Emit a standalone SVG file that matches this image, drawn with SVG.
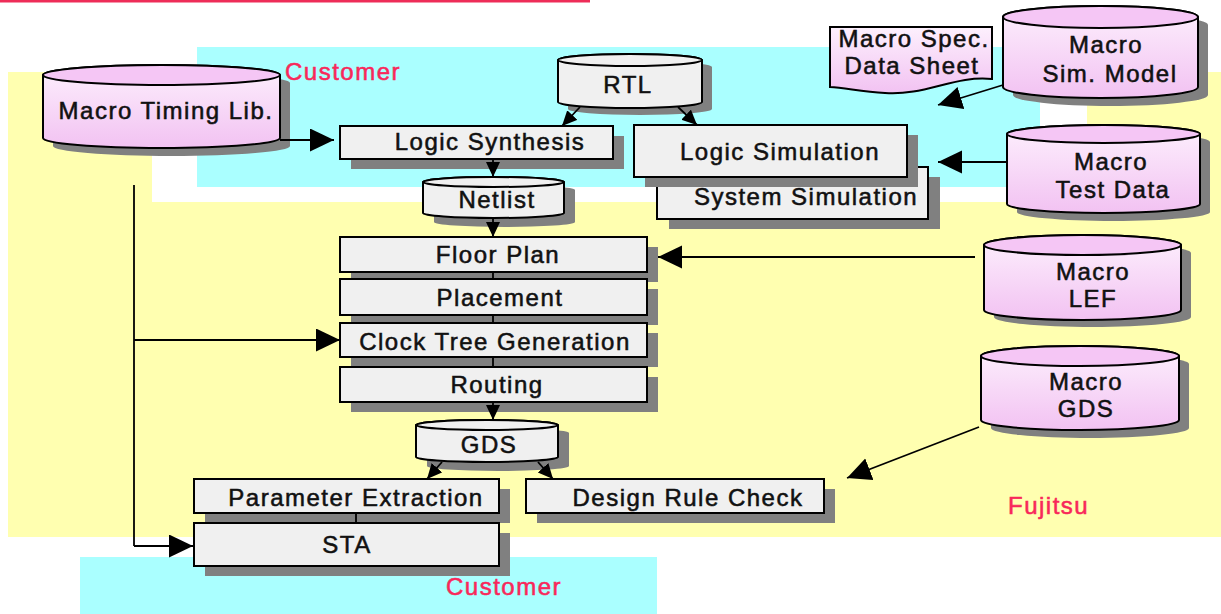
<svg xmlns="http://www.w3.org/2000/svg" width="1221" height="614" viewBox="0 0 1221 614">
<defs>
<linearGradient id="pink" x1="0" y1="0" x2="0" y2="1">
<stop offset="0" stop-color="#fdf0fd"/>
<stop offset="1" stop-color="#f2c2f2"/>
</linearGradient>
<marker id="big" markerUnits="userSpaceOnUse" markerWidth="26" markerHeight="24" refX="24" refY="11.5" orient="auto">
<path d="M0,0 L24,11.5 L0,23 Z" fill="#000"/>
</marker>
<marker id="small" markerUnits="userSpaceOnUse" markerWidth="16" markerHeight="16" refX="15" refY="7" orient="auto">
<path d="M0,0 L15,7 L0,14 Z" fill="#000"/>
</marker>
</defs>
<style>
text{font-family:"Liberation Sans",Arial,sans-serif;font-size:24px;letter-spacing:1.5px;fill:#111;stroke:#111;stroke-width:0.55px;text-anchor:middle}
.red{fill:#f8285a;stroke:#f8285a;text-anchor:start}
.box{fill:#f0f0f0;stroke:#000;stroke-width:2}
.sh{fill:#808080}
.cyl{fill:url(#pink);stroke:#000;stroke-width:2}
.top{fill:#f5c6f5;stroke:#000;stroke-width:2}
.gcyl{fill:#f0f0f0;stroke:#000;stroke-width:2}
.ln{fill:none;stroke:#000;stroke-width:1.8}
.lb{marker-end:url(#big)}
.ls{marker-end:url(#small)}
</style>

<g id="background">
<rect x="0" y="0" width="590" height="2.5" fill="#ee2c58"/>
<path d="M8,72 H152 V202 H1087 V72 H1221 V537 H8 Z" fill="#ffffb0"/>
<rect x="197" y="47" width="843" height="140" fill="#aaffff"/>
<rect x="80" y="557" width="577" height="57" fill="#aaffff"/>
<text class="red" x="285" y="80">Customer</text>
<text class="red" x="446" y="595">Customer</text>
<text class="red" x="1008" y="514">Fujitsu</text>
</g>

<g id="macro-timing-lib">
<path class="sh" d="M53,83 V146 A118.5,10 0 0 0 290,146 V83 A118.5,10 0 0 0 53,83 Z"/>
<path class="cyl" d="M43,75 V138 A118.5,10 0 0 0 280,138 V75 A118.5,10 0 0 0 43,75 Z"/>
<ellipse class="top" cx="161.5" cy="75" rx="118.5" ry="10"/>
<text x="166" y="119">Macro Timing Lib.</text>
</g>

<g id="rtl">
<path class="sh" d="M568,67 V109 A72,6 0 0 0 712,109 V67 A72,6 0 0 0 568,67 Z"/>
<path class="gcyl" d="M558,60 V102 A72,6 0 0 0 702,102 V60 A72,6 0 0 0 558,60 Z"/>
<ellipse class="gcyl" cx="630" cy="60" rx="72" ry="6"/>
<text x="628" y="93">RTL</text>
</g>

<g id="logic-synthesis">
<rect class="sh" x="351" y="136" width="273" height="33"/>
<rect class="box" x="340" y="126" width="273" height="33"/>
<text x="490" y="150">Logic Synthesis</text>
</g>

<g id="system-simulation">
<rect class="sh" x="669" y="177" width="271" height="52"/>
<rect class="box" x="657" y="167" width="271" height="52"/>
<text x="806" y="205">System Simulation</text>
</g>

<g id="logic-simulation">
<rect class="sh" x="645" y="135" width="273" height="52"/>
<rect class="box" x="634" y="125" width="273" height="52"/>
<text x="780" y="160">Logic Simulation</text>
</g>

<g id="netlist">
<path class="sh" d="M434,190 V222 A70.5,5 0 0 0 575,222 V190 A70.5,5 0 0 0 434,190 Z"/>
<path class="gcyl" d="M423,182 V213 A70.5,5 0 0 0 564,213 V182 A70.5,5 0 0 0 423,182 Z"/>
<ellipse class="gcyl" cx="493.5" cy="182" rx="70.5" ry="5"/>
<text x="497" y="208">Netlist</text>
</g>

<g id="macro-spec-data-sheet">
<path d="M830,27 H992 V79 C955,75 925,96 885,93 C860,91 845,88 830,87 Z" fill="url(#pink)" stroke="#000" stroke-width="2"/>
<text x="914" y="47">Macro Spec.</text>
<text x="912" y="74">Data Sheet</text>
</g>

<g id="macro-sim-model">
<path class="sh" d="M1013,25 V95 A97.5,11 0 0 0 1208,95 V25 A97.5,11 0 0 0 1013,25 Z"/>
<path class="cyl" d="M1003,17 V87 A97.5,11 0 0 0 1198,87 V17 A97.5,11 0 0 0 1003,17 Z"/>
<ellipse class="top" cx="1100.5" cy="17" rx="97.5" ry="11"/>
<text x="1106" y="53">Macro</text>
<text x="1110" y="82">Sim. Model</text>
</g>

<g id="macro-test-data">
<path class="sh" d="M1017,142 V212 A96.5,9 0 0 0 1210,212 V142 A96.5,9 0 0 0 1017,142 Z"/>
<path class="cyl" d="M1007,134 V204 A96.5,9 0 0 0 1200,204 V134 A96.5,9 0 0 0 1007,134 Z"/>
<ellipse class="top" cx="1103.5" cy="134" rx="96.5" ry="9"/>
<text x="1111" y="170">Macro</text>
<text x="1113" y="198">Test Data</text>
</g>

<g id="floor-plan">
<rect class="sh" x="351" y="247" width="307" height="35"/>
<rect class="box" x="340" y="237" width="307" height="35"/>
<text x="498" y="263">Floor Plan</text>
</g>

<g id="placement">
<rect class="sh" x="351" y="289" width="307" height="36"/>
<rect class="box" x="340" y="279" width="307" height="36"/>
<text x="500" y="306">Placement</text>
</g>

<g id="clock-tree-generation">
<rect class="sh" x="351" y="333" width="307" height="34"/>
<rect class="box" x="340" y="323" width="307" height="34"/>
<text x="495" y="350">Clock Tree Generation</text>
</g>

<g id="routing">
<rect class="sh" x="351" y="377" width="307" height="35"/>
<rect class="box" x="340" y="367" width="307" height="35"/>
<text x="497" y="393">Routing</text>
</g>

<g id="macro-lef">
<path class="sh" d="M994,253 V317 A98.5,10 0 0 0 1191,317 V253 A98.5,10 0 0 0 994,253 Z"/>
<path class="cyl" d="M984,245 V310 A98.5,10 0 0 0 1181,310 V245 A98.5,10 0 0 0 984,245 Z"/>
<ellipse class="top" cx="1082.5" cy="245" rx="98.5" ry="10"/>
<text x="1093" y="280">Macro</text>
<text x="1093" y="307">LEF</text>
</g>

<g id="macro-gds">
<path class="sh" d="M991,364 V428 A99,10 0 0 0 1189,428 V364 A99,10 0 0 0 991,364 Z"/>
<path class="cyl" d="M981,356 V420 A99,10 0 0 0 1179,420 V356 A99,10 0 0 0 981,356 Z"/>
<ellipse class="top" cx="1080" cy="356" rx="99" ry="10"/>
<text x="1086" y="390">Macro</text>
<text x="1086" y="417">GDS</text>
</g>

<g id="gds">
<path class="sh" d="M427,433 V466 A71,5 0 0 0 569,466 V433 A71,5 0 0 0 427,433 Z"/>
<path class="gcyl" d="M416,425 V457 A71,5 0 0 0 558,457 V425 A71,5 0 0 0 416,425 Z"/>
<ellipse class="gcyl" cx="487" cy="425" rx="71" ry="5"/>
<text x="489" y="453">GDS</text>
</g>

<g id="parameter-extraction">
<rect class="sh" x="205" y="489" width="305" height="34"/>
<rect class="box" x="194" y="479" width="305" height="34"/>
<text x="356" y="506">Parameter Extraction</text>
</g>

<g id="sta">
<rect class="sh" x="205" y="533" width="305" height="43"/>
<rect class="box" x="194" y="523" width="305" height="43"/>
<text x="347" y="553">STA</text>
</g>

<g id="design-rule-check">
<rect class="sh" x="537" y="489" width="298" height="34"/>
<rect class="box" x="526" y="479" width="298" height="34"/>
<text x="688" y="506">Design Rule Check</text>
</g>

<g id="connectors">
<line class="ln lb" x1="280" y1="140" x2="334" y2="140"/>
<polyline class="ln" points="134,185 134,546"/>
<line class="ln lb" x1="134" y1="340" x2="340" y2="340"/>
<line class="ln lb" x1="134" y1="546" x2="193" y2="546"/>
<line class="ln ls" x1="580" y1="107" x2="562" y2="126"/>
<line class="ln ls" x1="678" y1="107" x2="697" y2="125"/>
<line class="ln ls" x1="493" y1="159" x2="493" y2="177"/>
<line class="ln ls" x1="493" y1="218" x2="493" y2="237"/>
<line class="ln" x1="493" y1="272" x2="493" y2="279"/>
<line class="ln" x1="493" y1="315" x2="493" y2="323"/>
<line class="ln" x1="493" y1="357" x2="493" y2="367"/>
<line class="ln ls" x1="493" y1="402" x2="493" y2="420"/>
<line class="ln ls" x1="442" y1="462" x2="427" y2="479"/>
<line class="ln ls" x1="538" y1="462" x2="553" y2="479"/>
<line class="ln" x1="356" y1="513" x2="356" y2="523"/>
<line class="ln lb" x1="1003" y1="85" x2="938" y2="105"/>
<line class="ln lb" x1="1007" y1="162" x2="938" y2="162"/>
<line class="ln lb" x1="975" y1="257" x2="658" y2="257"/>
<line class="ln lb" x1="979" y1="427" x2="847" y2="478"/>
</g>
</svg>
